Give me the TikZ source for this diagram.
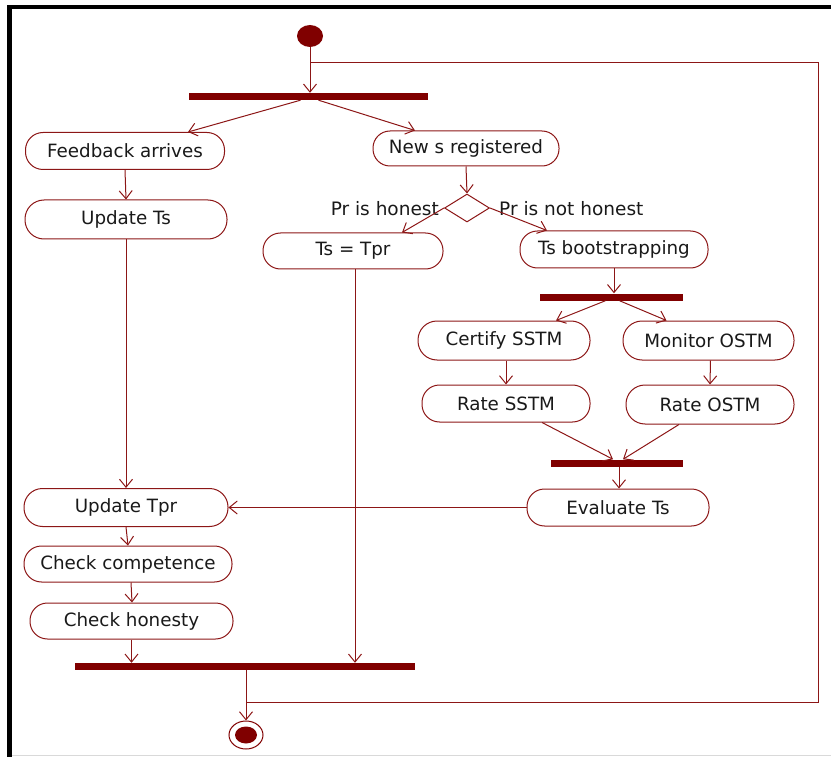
\documentclass[tikz,border=0pt]{standalone}
\usepackage{fontspec}
\setmainfont{DejaVu Sans}
\usetikzlibrary{arrows.meta,shapes.geometric,calc}
\definecolor{mr}{RGB}{128,0,0}
\definecolor{ln}{RGB}{140,22,22}
\tikzset{
  act/.style={draw=ln, line width=1pt, rounded corners=17.5pt, minimum height=36pt, inner sep=0pt, font=\fontsize{18.3}{21}\selectfont, text=black!90},
  barnode/.style={fill=mr, inner sep=0pt, minimum height=7pt},
  arr/.style={draw=ln, line width=1pt, -{Straight Barb[length=8pt,width=13pt]}},
  lin/.style={draw=ln, line width=1pt},
  lbl/.style={font=\fontsize{18.5}{21}\selectfont, text=black!90, inner sep=0pt}
}
\begin{document}
\begin{tikzpicture}[x=1pt,y=-1pt]
\useasboundingbox (0,0) rectangle (831,757);
% frame
\draw[black, line width=4.5pt] (9.5,757) -- (9.5,7) -- (831,7);
\draw[black!15, line width=1pt] (12,755.5) -- (831,755.5);

% start / end
\node[ellipse, fill=mr, minimum width=26pt, minimum height=22pt, inner sep=0pt] (start) at (310,36) {};
\node[ellipse, draw=mr, line width=1pt, minimum width=34pt, minimum height=28pt, inner sep=0pt] (end) at (246,735) {};
\node[ellipse, fill=mr, minimum width=22pt, minimum height=17pt, inner sep=0pt] (endin) at (246,735) {};

% bars
\node[barnode, minimum width=239pt] (bar1) at (308.5,96.5) {};
\node[barnode, minimum width=143pt] (bar2) at (611.5,297) {};
\node[barnode, minimum width=132pt] (bar3) at (617,463) {};
\node[barnode, minimum width=340pt] (bar4) at (245,666.5) {};

% activities
\node[act, minimum width=199pt, minimum height=37pt] (fb) at (125,151) {Feedback arrives};
\node[act, minimum width=186pt, minimum height=35pt, rounded corners=17pt] (ns) at (466,148.5) {New s registered};
\node[act, minimum width=202pt, minimum height=39pt, rounded corners=19pt] (uts) at (126,219.5) {Update Ts};
\node[act, minimum width=180pt] (tstpr) at (353,251) {Ts = Tpr};
\node[act, minimum width=188pt, minimum height=37pt] (tsb) at (614,249.5) {Ts bootstrapping};
\node[act, minimum width=172pt, minimum height=39pt, rounded corners=19pt] (cert) at (504,340.5) {Certify SSTM};
\node[act, minimum width=171pt, minimum height=39pt, rounded corners=19pt] (mon) at (708.5,340.5) {Monitor OSTM};
\node[act, minimum width=168pt, minimum height=37pt] (rs) at (506,403.5) {Rate SSTM};
\node[act, minimum width=168pt, minimum height=39pt, rounded corners=19pt] (ro) at (710,404.5) {Rate OSTM};
\node[act, minimum width=182pt, minimum height=37pt] (ev) at (618,507.5) {Evaluate Ts};
\node[act, minimum width=204pt, minimum height=38pt, rounded corners=18.5pt] (utpr) at (126,507.5) {Update Tpr};
\node[act, minimum width=208pt] (cc) at (128,564) {Check competence};
\node[act, minimum width=203pt] (ch) at (131.5,621) {Check honesty};

% decision
\node[diamond, draw=ln, line width=1pt, minimum width=45pt, minimum height=28pt, inner sep=0pt, fill=white] (dia) at (467,208) {};
\node[lbl, anchor=east] (lh) at (439,209) {Pr is honest};
\node[lbl, anchor=west] (lnh) at (499,209) {Pr is not honest};

% connectors
\draw[arr] (start.south) -- (start.south |- bar1.north);
\draw[arr] ($(bar1.south)+(-8,0)$) -- ($(fb.north)+(63,0)$);
\draw[arr] ($(bar1.south)+(10,0)$) -- ($(ns.north)+(-51,0)$);
\draw[arr] (fb.south) -- (uts.north);
\draw[arr] (ns.south) -- (dia.north);
\draw[arr] (dia.west) -- ($(tstpr.north)+(49,0)$);
\draw[arr] (dia.east) -- ($(tsb.north)+(-67,0)$);
\draw[arr] (uts.south) -- (utpr.north);
\draw[arr] ($(tstpr.south)+(2,0)$) -- ($(tstpr.south |- bar4.north)+(2,0)$);
\draw[arr] (tsb.south) -- (tsb.south |- bar2.north);
\draw[arr] ($(bar2.south)+(-6,0)$) -- ($(cert.north)+(52,0)$);
\draw[arr] ($(bar2.south)+(8,0)$) -- ($(mon.north)+(-42,0)$);
\draw[arr] ($(cert.south)+(2,0)$) -- ($(rs.north)+(0,0)$);
\draw[arr] ($(mon.south)+(2,0)$) -- ($(ro.north)+(0,0)$);
\draw[arr] ($(rs.south)+(36,0)$) -- ($(bar3.north)+(-4,0)$);
\draw[arr] ($(ro.south)+(-31,0)$) -- ($(bar3.north)+(6,0)$);
\draw[arr] ($(bar3.south)+(2,0)$) -- ($(ev.north)+(1,0)$);
\draw[arr] (ev.west) -- (ev.west -| utpr.east);
\draw[arr] (utpr.south) -- (cc.north);
\draw[arr] ($(cc.south)+(3,0)$) -- ($(ch.north)+(0.5,0)$);
\draw[arr] (ch.south) -- (ch.south |- bar4.north);
\draw[arr] ($(bar4.south)+(1,0)$) -- (end.north);

% loop back
\coordinate (lp0) at (246,702);
\coordinate (lp1) at (818,702);
\coordinate (lp2) at (818,63);
\coordinate (lp3) at (310,63);
\draw[lin] (lp0) -- (lp1) -- (lp2) -- (lp3);
\end{tikzpicture}
\end{document}
